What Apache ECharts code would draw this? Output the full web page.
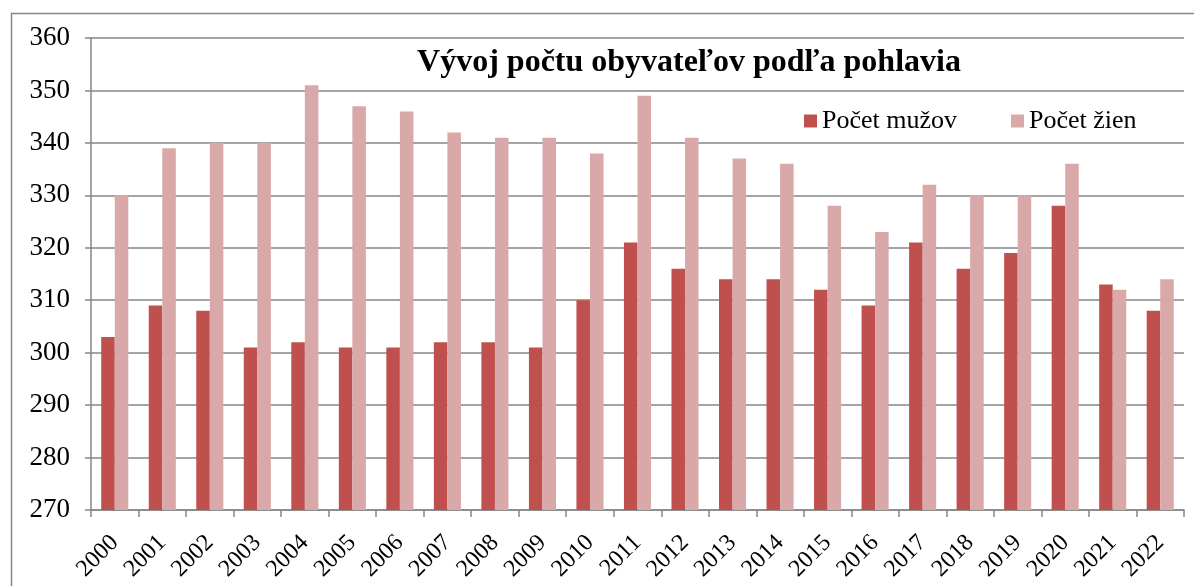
<!DOCTYPE html>
<html>
<head>
<meta charset="utf-8">
<script src="https://cdn.jsdelivr.net/npm/echarts@6/dist/echarts.min.js"></script>
<style>
html,body{margin:0;padding:0;background:#fff;}
#chart{width:1194px;height:586px;}
</style>
</head>
<body>
<div id="chart"></div>
<script>
const years = ['2000','2001','2002','2003','2004','2005','2006','2007','2008','2009','2010','2011','2012','2013','2014','2015','2016','2017','2018','2019','2020','2021','2022'];
const men = [303,309,308,301,302,301,301,302,302,301,310,321,316,314,314,312,309,321,316,319,328,313,308];
const women = [330,339,340,340,351,347,346,342,341,341,338,349,341,337,336,328,323,332,330,330,336,312,314];
const yTicks = {min:270, max:360, interval:10};
const titleText = 'Vývoj počtu obyvateľov podľa pohlavia';
const seriesNames = ['Počet mužov','Počet žien'];

const serif = '"Liberation Serif","DejaVu Serif",serif';
const chart = echarts.init(document.getElementById('chart'), null, {renderer:'canvas'});
chart.setOption({
  animation:false,
  backgroundColor:'#fff',
  graphic:[{
    type:'rect', left:9, top:11, shape:{width:1200, height:600},
    style:{fill:'none', stroke:'#868686', lineWidth:1.5}, silent:true
  }],
  title:{
    text:titleText, left:684, top:42, textAlign:'center',
    textStyle:{fontFamily:serif, fontWeight:'bold', fontSize:32, color:'#000'}
  },
  legend:{
    left:799, top:103, itemWidth:13, itemHeight:13, itemGap:54,
    icon:'rect',
    textStyle:{fontFamily:serif, fontSize:26, color:'#000'},
    data:seriesNames
  },
  grid:{left:91, right:10, top:38, bottom:76, containLabel:false},
  xAxis:{
    type:'category', data:years,
    axisLine:{lineStyle:{color:'#868686', width:1.5}},
    axisTick:{show:true, length:7, lineStyle:{color:'#868686', width:1.5}},
    axisLabel:{rotate:45, fontFamily:serif, fontSize:24, color:'#000', margin:29, interval:0}
  },
  yAxis:{
    type:'value', min:yTicks.min, max:yTicks.max, interval:yTicks.interval,
    axisLine:{show:true, lineStyle:{color:'#868686', width:1.5}},
    axisTick:{show:true, length:6, lineStyle:{color:'#868686', width:1.5}},
    axisLabel:{fontFamily:serif, fontSize:27, color:'#000', margin:21},
    splitLine:{lineStyle:{color:'#868686', width:1.5}}
  },
  series:[
    {name:seriesNames[0], type:'bar', data:men, itemStyle:{color:'#C0504D'}, barGap:'0%', barCategoryGap:'43%'},
    {name:seriesNames[1], type:'bar', data:women, itemStyle:{color:'#D9A9AA'}, barGap:'0%', barCategoryGap:'43%'}
  ]
});
</script>
</body>
</html>
